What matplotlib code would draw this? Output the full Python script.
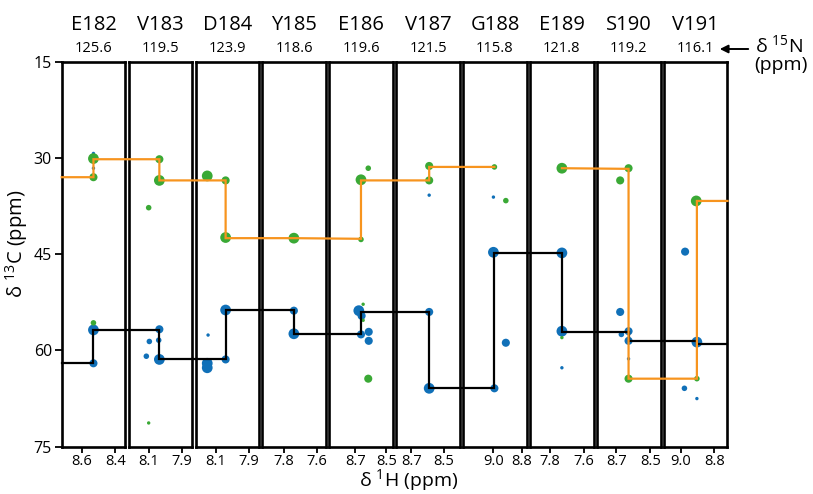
import matplotlib
matplotlib.use('Agg')
import matplotlib.pyplot as plt
from matplotlib.lines import Line2D

# strip headers
residues = ['E182', 'V183', 'D184', 'Y185', 'E186', 'V187', 'G188', 'E189', 'S190', 'V191']
n15_shifts = ['125.6', '119.5', '123.9', '118.6', '119.6', '121.5', '115.8', '121.8', '119.2', '116.1']

# 1H window and tick labels of every strip
h1_left = [8.72, 8.22, 8.22, 7.926, 8.868, 8.794, 9.214, 7.92, 8.812, 9.103]
h1_right = [8.34, 7.84, 7.84, 7.546, 8.458, 8.40, 8.764, 7.54, 8.441, 8.721]
h1_ticks = [(8.6, 8.4), (8.1, 7.9), (8.1, 7.9), (7.8, 7.6), (8.7, 8.5),
            (8.7, 8.5), (9.0, 8.8), (7.8, 7.6), (8.7, 8.5), (9.0, 8.8)]
c13_ticks = [15, 30, 45, 60, 75]

# blue peaks (strip index, 1H, 13C, intensity class 1..4)
blue_strip = [0, 0, 0, 0, 1, 1, 1, 1, 1, 2, 2, 2, 2, 2, 3, 3, 4, 4, 4, 4, 4,
              5, 5, 5, 6, 6, 6, 6, 7, 7, 7, 8, 8, 8, 8, 8, 9, 9, 9, 9]
blue_h = [8.53, 8.53, 8.53, 8.53, 8.036, 8.096, 8.04, 8.114, 8.036,
          8.04, 8.145, 8.15, 8.15, 8.04, 7.738, 7.738,
          8.678, 8.66, 8.664, 8.614, 8.614, 8.59, 8.59, 8.59,
          9.0, 9.0, 8.912, 8.993, 7.73, 7.73, 7.73,
          8.677, 8.628, 8.67, 8.628, 8.628, 8.976, 8.905, 8.98, 8.905]
blue_c = [29.3, 31.6, 56.8, 62.0, 56.7, 58.6, 58.4, 60.9, 61.4,
          53.7, 57.6, 62.0, 62.7, 61.4, 53.8, 57.4,
          53.8, 54.6, 57.5, 57.1, 58.5, 35.8, 54.0, 65.9,
          36.1, 44.7, 58.8, 65.9, 44.8, 57.0, 62.7,
          54.0, 57.0, 57.5, 58.5, 61.3, 44.6, 58.7, 65.9, 67.5]
blue_int = [1, 1, 4, 3, 3, 2, 2, 2, 4,
            4, 1, 4, 4, 3, 3, 4,
            4, 3, 3, 3, 3, 1, 3, 4,
            1, 4, 3, 3, 4, 4, 1,
            3, 3, 2, 3, 1, 3, 4, 2, 1]

# green peaks
green_strip = [0, 0, 0, 1, 1, 1, 1, 2, 2, 2, 3, 4, 4, 4, 4, 4, 4,
               5, 5, 6, 6, 7, 7, 8, 8, 8, 9, 9]
green_h = [8.53, 8.53, 8.53, 8.036, 8.036, 8.10, 8.10, 8.15, 8.04, 8.04, 7.738,
           8.617, 8.664, 8.664, 8.65, 8.65, 8.617, 8.59, 8.59, 8.993, 8.912,
           7.73, 7.73, 8.628, 8.677, 8.628, 8.909, 8.905]
green_c = [30.1, 33.0, 55.7, 30.2, 33.5, 37.75, 71.3, 32.8, 33.5, 42.4, 42.5,
           31.6, 33.4, 42.7, 52.8, 55.3, 64.4, 31.25, 33.5, 31.4, 36.65,
           31.6, 58.0, 31.6, 33.5, 64.4, 36.7, 64.4]
green_int = [4, 3, 2, 3, 4, 2, 1, 4, 3, 4, 4,
             2, 4, 2, 1, 1, 3, 3, 3, 2, 2,
             4, 1, 3, 3, 3, 4, 2]

# sequential walks (None = edge of the strip row)
ca_strip = [0, 0, 0, 1, 1, 2, 2, 3, 3, 4, 4, 5, 5, 6, 6, 7, 7, 8, 8, 9, 9, 9]
ca_h = [None, 8.53, 8.53, 8.036, 8.036, 8.04, 8.04, 7.738, 7.738, 8.664, 8.664,
        8.59, 8.59, 8.993, 8.993, 7.73, 7.73, 8.628, 8.628, 8.905, 8.905, None]
ca_c = [62.0, 62.0, 56.8, 56.8, 61.4, 61.4, 53.75, 53.75, 57.4, 57.4, 54.0,
        54.0, 65.9, 65.9, 44.75, 44.75, 57.1, 57.1, 58.5, 58.5, 59.0, 59.0]

cb1_strip = [0, 0, 0, 1, 1, 2, 2, 3, 4, 4, 5, 5, 6]
cb1_h = [None, 8.53, 8.53, 8.036, 8.036, 8.04, 8.04, 7.738, 8.664, 8.664, 8.59, 8.59, 8.993]
cb1_c = [33.0, 33.0, 30.2, 30.2, 33.5, 33.5, 42.5, 42.5, 42.6, 33.5, 33.5, 31.4, 31.4]

cb2_strip = [7, 8, 8, 9, 9, 9]
cb2_h = [7.73, 8.628, 8.628, 8.905, 8.905, None]
cb2_c = [31.6, 31.7, 64.4, 64.4, 36.7, 36.7]

BLUE = '#1070b8'
GREEN = '#3aa935'
ORANGE = '#f7941e'
FONT = 'Open Sans'
SIZES = {1: 6, 2: 16, 3: 34, 4: 60}


def walk_points(fig, axes, strips, hs, cs):
    inv = fig.transFigure.inverted()
    xs, ys = [], []
    for k, (s, h, c) in enumerate(zip(strips, hs, cs)):
        ax = axes[s]
        if h is None:
            h = ax.get_xlim()[0] if k == 0 else ax.get_xlim()[1]
        fx, fy = inv.transform(ax.transData.transform((h, c)))
        xs.append(fx)
        ys.append(fy)
    return xs, ys


def main():
    plt.rcParams['font.family'] = [FONT, 'DejaVu Sans']
    W, H = 813, 494
    fig = plt.figure(figsize=(W / 100, H / 100), dpi=100)

    left0, pitch, width = 61.7, 66.92, 63.5
    top, bottom = 61.7, 446.7
    axes = []
    for i, name in enumerate(residues):
        x0 = left0 + i * pitch
        ax = fig.add_axes([x0 / W, 1 - bottom / H, width / W, (bottom - top) / H])
        ax.set_xlim(h1_left[i], h1_right[i])
        ax.set_ylim(75, 15)
        ax.set_xticks(h1_ticks[i])
        ax.set_xticklabels([f'{t:.1f}' for t in h1_ticks[i]], fontsize=10.5)
        ax.tick_params(axis='x', length=4, width=1.3, pad=1.5)
        if i == 0:
            ax.set_yticks(c13_ticks)
            ax.set_yticklabels([str(t) for t in c13_ticks], fontsize=11.5)
            ax.tick_params(axis='y', length=5, width=1.3, pad=2)
        else:
            ax.set_yticks([])
        for sp in ax.spines.values():
            sp.set_linewidth(1.9)
        cx = (x0 + width / 2) / W
        fig.text(cx, 1 - 25 / H, name, ha='center', va='center', fontsize=14.5)
        fig.text(cx, 1 - 48.5 / H, n15_shifts[i], ha='center', va='center', fontsize=10.5)
        axes.append(ax)

    # peaks
    for s, h, c, k in zip(blue_strip, blue_h, blue_c, blue_int):
        axes[s].scatter(h, c, s=SIZES[k], color=BLUE, edgecolors='none', zorder=3)
    for s, h, c, k in zip(green_strip, green_h, green_c, green_int):
        axes[s].scatter(h, c, s=SIZES[k], color=GREEN, edgecolors='none', zorder=3)

    # sequential connectivity lines across strips
    for strips, hs, cs, col in [(ca_strip, ca_h, ca_c, 'black'),
                                (cb1_strip, cb1_h, cb1_c, ORANGE),
                                (cb2_strip, cb2_h, cb2_c, ORANGE)]:
        xs, ys = walk_points(fig, axes, strips, hs, cs)
        fig.add_artist(Line2D(xs, ys, color=col, lw=1.6, transform=fig.transFigure,
                              solid_joinstyle='miter', zorder=5))

    fig.text(17 / W, 1 - 244 / H, r'δ $^{\mathregular{13}}$C (ppm)', rotation=90,
             ha='center', va='center', fontsize=14.5)
    fig.text(409 / W, 1 - 481 / H, r'δ $^{\mathregular{1}}$H (ppm)',
             ha='center', va='center', fontsize=14)
    fig.text(779 / W, 1 - 46 / H, r'δ $^{\mathregular{15}}$N',
             ha='center', va='center', fontsize=14)
    fig.text(781 / W, 1 - 65 / H, '(ppm)', ha='center', va='center', fontsize=14)
    axes[-1].annotate('', xy=(717 / W, 1 - 49 / H), xytext=(751 / W, 1 - 49 / H),
                      xycoords='figure fraction', textcoords='figure fraction',
                      arrowprops=dict(arrowstyle='-|>', color='black', lw=1.4,
                                      mutation_scale=12),
                      annotation_clip=False)

    fig.savefig('out.png', dpi=100)


if __name__ == '__main__':
    main()
